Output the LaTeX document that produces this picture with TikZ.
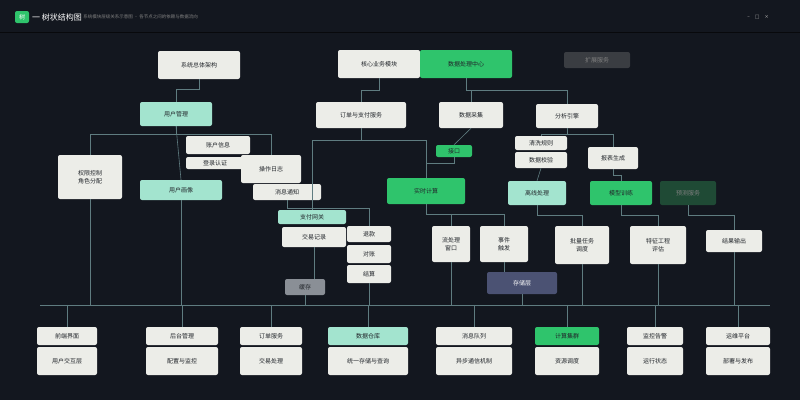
\documentclass[tikz,border=0pt]{standalone}
\usepackage{fontspec}
\newfontfamily\cjk{Noto Sans CJK SC}
\newfontfamily\dejavu{DejaVu Sans}
\definecolor{bgc}{HTML}{13171F}
\definecolor{boxw}{HTML}{ECEDE8}
\definecolor{boxg}{HTML}{2FC46C}
\definecolor{boxm}{HTML}{A3E4CF}
\definecolor{boxd}{HTML}{1F4A35}
\definecolor{boxb}{HTML}{4B5273}
\definecolor{boxs}{HTML}{8A8F96}
\definecolor{ghost}{HTML}{3A3D42}
\definecolor{linec}{HTML}{5F7C80}
\definecolor{txtd}{HTML}{22262B}
\tikzset{
  bx/.style={rounded corners=2pt, draw=none, inner sep=1pt, align=center,
     font=\cjk\fontsize{6}{7.5}\selectfont, text=txtd},
  wb/.style={bx, fill=boxw},
  gb/.style={bx, fill=boxg},
  mb/.style={bx, fill=boxm},
  conn/.style={draw=linec, line width=0.6pt},
}
\begin{document}
\begin{tikzpicture}[x=1pt,y=-1pt]
\fill[bgc] (0,0) rectangle (800,400);
\useasboundingbox (0,0) rectangle (800,400);
\draw[color=black!60!bgc, line width=0.5pt] (0,32) -- (800,32);
% title
\node[fill=boxg, rounded corners=2pt, minimum width=14, minimum height=12, inner sep=0pt,
  font=\cjk\fontsize{6}{6}\selectfont, text=white] (icon) at (22,17) {树};
\node[anchor=west, text=white, font=\cjk\fontsize{8}{9}\selectfont, inner sep=0pt] (title) at (32,17) {一 树状结构图};
\node[anchor=west, text=gray, font=\cjk\fontsize{4.5}{5}\selectfont, inner sep=0pt] (sub) at (title.east) {\ 系统模块层级关系示意图 · 各节点之间的依赖与数据流向};
\node[text=gray!70, font=\dejavu\fontsize{5}{6}\selectfont, inner sep=0pt] (wc) at (758,17) {–\quad □\quad ×};
% row 1
\node[wb, minimum width=82, minimum height=28] (A) at (199,65) {系统总体架构};
\node[wb, minimum width=82, minimum height=28] (B) at (379,64) {核心业务模块};
\node[gb, minimum width=92, minimum height=28] (C) at (466,64) {数据处理中心};
\node[bx, fill=ghost, text=gray, minimum width=66, minimum height=16] (ghost) at (597,60) {扩展服务};
% row 2
\node[mb, minimum width=72, minimum height=24] (D) at (176,114) {用户管理};
\node[wb, minimum width=90, minimum height=26] (E) at (361,115) {订单与支付服务};
\node[wb, minimum width=64, minimum height=26] (F) at (471,115) {数据采集};
\node[wb, minimum width=62, minimum height=24] (G) at (567,116) {分析引擎};
% row 3
\node[wb, minimum width=64, minimum height=44] (H) at (90,177) {权限控制\\角色分配};
\node[wb, minimum width=64, minimum height=18] (I) at (218,145) {账户信息};
\node[wb, minimum width=58, minimum height=12] (J) at (215,163) {登录认证};
\node[wb, minimum width=60, minimum height=28] (K) at (271,169) {操作日志};
\node[wb, minimum width=68, minimum height=16] (L) at (287,192) {消息通知};
\node[mb, minimum width=82, minimum height=20] (M) at (181,190) {用户画像};
\node[gb, minimum width=36, minimum height=12] (N) at (454,151) {接口};
\node[wb, minimum width=52, minimum height=14] (O1) at (541,143) {清洗规则};
\node[wb, minimum width=52, minimum height=16] (O2) at (541,160) {数据校验};
\node[wb, minimum width=50, minimum height=22] (P) at (613,158) {报表生成};
\node[gb, minimum width=78, minimum height=26] (Q) at (426,191) {实时计算};
\node[mb, minimum width=58, minimum height=24] (R) at (537,193) {离线处理};
\node[gb, minimum width=62, minimum height=24] (S) at (621,193) {模型训练};
\node[bx, fill=boxd, text=gray, minimum width=56, minimum height=24] (T) at (688,193) {预测服务};
% row 4
\node[mb, minimum width=68, minimum height=14] (U) at (312,217) {支付网关};
\node[wb, minimum width=64, minimum height=20] (V) at (314,237) {交易记录};
\node[wb, minimum width=44, minimum height=16] (W1) at (369,234) {退款};
\node[wb, minimum width=44, minimum height=18] (W2) at (369,254) {对账};
\node[wb, minimum width=44, minimum height=18] (W3) at (369,274) {结算};
\node[wb, minimum width=38, minimum height=36] (X) at (451,244) {流处理\\窗口};
\node[wb, minimum width=48, minimum height=36] (Y) at (504,244) {事件\\触发};
\node[wb, minimum width=54, minimum height=38] (Z) at (582,245) {批量任务\\调度};
\node[wb, minimum width=56, minimum height=38] (AA) at (658,245) {特征工程\\评估};
\node[wb, minimum width=56, minimum height=22] (AB) at (734,241) {结果输出};
\node[bx, fill=boxb, text=white!80, minimum width=70, minimum height=22] (AC) at (522,283) {存储层};
\node[bx, fill=boxs, minimum width=40, minimum height=16] (AD) at (305,287) {缓存};
% bottom row
\foreach \n/\cx/\w/\st/\h/\b in {
  1/67/60/wb/前端界面/用户交互层,
  2/182/72/wb/后台管理/配置与监控,
  3/271/62/wb/订单服务/交易处理,
  4/368/80/mb/数据仓库/统一存储与查询,
  5/474/76/wb/消息队列/异步通信机制,
  6/567/64/gb/计算集群/资源调度,
  7/655/56/wb/监控告警/运行状态,
  8/738/64/wb/运维平台/部署与发布}{
  \node[\st, minimum width=\w, minimum height=18] (h\n) at (\cx,336) {\h};
  \node[wb, minimum width=\w, minimum height=28] (b\n) at (\cx,361) {\b};
}
% connectors row1 -> row2
\draw[conn] (A.south) -- ++(0,10) -| (D.north);
\draw[conn] (B.south) -- ++(0,12) -| (E.north);
\draw[conn] (C.south) -- ++(0,12) -| (F.north);
\draw[conn] (C.south) -- ++(0,12) -| (G.north);
% row2 -> row3
\draw[conn] (D.south) -- ++(0,8) -| (H.north);
\draw[conn] (D.south) -- ++(0,8) -| (K.north);
\draw[conn] (D.south) -- (M.north);
\draw[conn] (E.south) -- ++(0,12) -| (Q.north);
\draw[conn] (E.south) -- ++(0,12) -| (U.north);
\draw[conn] (F.south) -- (N.north);
\draw[conn] (G.south) -- ++(0,6) -| (O1.north);
\draw[conn] (G.south) -- ++(0,6) -| (P.north);
\draw[conn] (O2.south) -- (R.north);
\draw[conn] (P.south) -- ++(0,6) -| (S.north);
\draw[conn] (N.south) -- ++(0,6) -| (Q.north);
% row3 -> row4
\draw[conn] (L.south) -- ++(0,8) -| (W1.north);
\draw[conn] (Q.south) -- ++(0,10) -| (X.north);
\draw[conn] (Q.south) -- ++(0,10) -| (Y.north);
\draw[conn] (R.south) -- ++(0,10) -| (Z.north);
\draw[conn] (S.south) -- ++(0,10) -| (AA.north);
\draw[conn] (T.south) -- ++(0,10) -| (AB.north);
\draw[conn] (Y.south) -- (Y.south |- AC.north);
\draw[conn] (V.south) -- (V.south |- AD.north);
% bottom bus
\coordinate (busL) at (40,305);
\coordinate (busR) at (770,305);
\draw[conn] (busL) -- (busR);
\foreach \s in {H,M,AD,W3,X,AC,Z,AA,AB}{
  \draw[conn] (\s.south) -- (\s.south |- busL);
}
\foreach \n in {1,...,8}{
  \draw[conn] (h\n.north) -- (h\n.north |- busL);
}
\end{tikzpicture}
\end{document}
